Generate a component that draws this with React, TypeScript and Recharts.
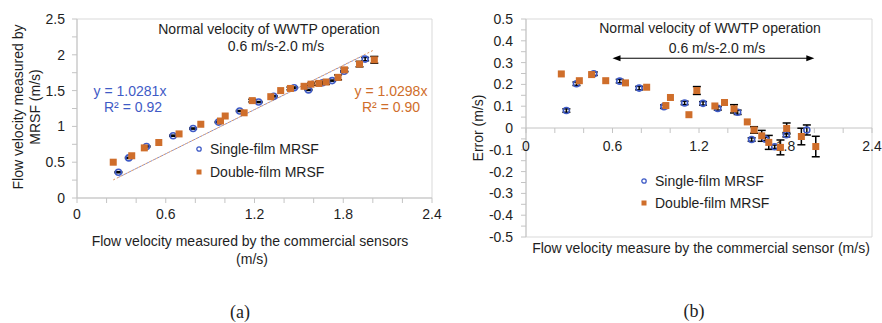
import React from "react";
import {
  ScatterChart,
  Scatter,
  XAxis,
  YAxis,
  ErrorBar,
  ReferenceArea,
  ReferenceLine,
  ReferenceDot,
} from "recharts";

// reference velocity (commercial sensor), MRSF reading, error, error-bar half length
const singleRef = [0.28, 0.35, 0.47, 0.65, 0.785, 0.957, 1.1, 1.228, 1.33, 1.468, 1.565, 1.66, 1.725, 1.806, 1.948];
const singleMrsf = [0.36, 0.56, 0.72, 0.87, 0.97, 1.06, 1.215, 1.34, 1.42, 1.54, 1.51, 1.61, 1.64, 1.77, 1.94];
const singleErr = [0.08, 0.203, 0.249, 0.215, 0.183, 0.098, 0.115, 0.113, 0.09, 0.072, -0.053, -0.051, -0.086, -0.031, -0.009];
const singleBar = [0.008, 0.008, 0.008, 0.008, 0.008, 0.008, 0.008, 0.008, 0.008, 0.01, 0.008, 0.008, 0.008, 0.01, 0.023];

const doubleRef = [0.245, 0.37, 0.455, 0.553, 0.69, 0.837, 0.97, 1.002, 1.13, 1.185, 1.31, 1.377, 1.443, 1.535, 1.582, 1.635, 1.684, 1.765, 1.808, 1.91, 2.01];
const doubleMrsf = [0.5, 0.59, 0.7, 0.775, 0.895, 1.03, 1.075, 1.145, 1.19, 1.36, 1.415, 1.5, 1.53, 1.56, 1.59, 1.6, 1.62, 1.685, 1.79, 1.87, 1.93];
const doubleErr = [0.248, 0.217, 0.245, 0.217, 0.207, 0.187, 0.103, 0.14, 0.061, 0.172, 0.101, 0.117, 0.088, 0.028, -0.009, -0.036, -0.066, -0.089, -0.002, -0.039, -0.085];
// null = bar hidden behind the marker
const doubleBar = [null, null, null, null, null, null, null, null, null, 0.018, null, null, 0.019, null, 0.015, 0.025, 0.032, 0.034, 0.025, 0.038, 0.047];

// trendline slopes (y = kx)
const slopeSingle = 1.0281;
const slopeDouble = 1.0298;

const xTicks = [0, 0.2, 0.4, 0.6, 0.8, 1, 1.2, 1.4, 1.6, 1.8, 2, 2.2, 2.4];
const xMajor = [0, 0.6, 1.2, 1.8, 2.4];
const yTicksA = [0, 0.25, 0.5, 0.75, 1, 1.25, 1.5, 1.75, 2, 2.25, 2.5];
const yMajorA = [0, 0.5, 1, 1.5, 2, 2.5];
const yTicksB = [-0.5, -0.45, -0.4, -0.35, -0.3, -0.25, -0.2, -0.15, -0.1, -0.05, 0, 0.05, 0.1, 0.15, 0.2, 0.25, 0.3, 0.35, 0.4, 0.45, 0.5];
const yMajorB = [-0.5, -0.4, -0.3, -0.2, -0.1, 0, 0.1, 0.2, 0.3, 0.4, 0.5];

const opRange = [0.6, 2.0];
const arrowY = 0.32;

const FONT = '"Liberation Sans", Arial, sans-serif';
const SERIF = '"Liberation Serif", "Times New Roman", serif';
const BLUE = "#3F5BC6";
const ORANGE = "#CF6E2B";
const GRAY = "#C4C4C4";
const TXT = "#1E1E1E";

const singleA = singleRef.map((x, i) => ({ x, y: singleMrsf[i], e: singleBar[i] }));
const doubleA = doubleRef.map((x, i) => ({ x, y: doubleMrsf[i], e: doubleBar[i] }));
const singleB = singleRef.map((x, i) => ({ x, y: singleErr[i], e: singleBar[i] }));
const doubleB = doubleRef.map((x, i) => ({ x, y: doubleErr[i], e: doubleBar[i] }));

const trend = (xs: number[], k: number) => {
  const lo = Math.min(...xs);
  const hi = Math.max(...xs);
  return [
    { x: lo, y: k * lo },
    { x: hi, y: k * hi },
  ];
};

const Circle = (p: any) => (
  <circle cx={p.cx} cy={p.cy} r={3} fill="none" stroke={BLUE} strokeWidth={1.6} />
);
const Square = (p: any) => (
  <rect x={p.cx - 3.5} y={p.cy - 3.5} width={7} height={7} fill={ORANGE} />
);
const NoDot = () => <g />;

function Txt({ x, y, children, color = TXT, size = 14, family = FONT }: any) {
  return (
    <div
      style={{
        position: "absolute",
        left: x,
        top: y,
        transform: "translate(-50%, -50%)",
        whiteSpace: "nowrap",
        fontSize: size,
        color,
        fontFamily: family,
        lineHeight: 1,
      }}
    >
      {children}
    </div>
  );
}

function LegendRow({ x, y, kind, label }: any) {
  return (
    <div
      style={{
        position: "absolute",
        left: x,
        top: y,
        transform: "translateY(-50%)",
        display: "flex",
        alignItems: "center",
        gap: 8,
        fontSize: 14,
        color: TXT,
        fontFamily: FONT,
        whiteSpace: "nowrap",
      }}
    >
      <svg width={6} height={6}>
        {kind === "circle" ? (
          <circle cx={3} cy={3} r={2.2} fill="none" stroke={BLUE} strokeWidth={1.3} />
        ) : (
          <rect x={0.5} y={0.5} width={5} height={5} fill={ORANGE} />
        )}
      </svg>
      <span>{label}</span>
    </div>
  );
}

const tickStyle = { fontSize: 14, fill: TXT, fontFamily: FONT };

const bars = (data: any[]) => (
  <Scatter data={data} shape={NoDot} isAnimationActive={false}>
    <ErrorBar dataKey="e" direction="y" width={4} stroke="#000" strokeWidth={1.5} />
  </Scatter>
);

export default function App() {
  return (
    <div
      style={{
        position: "absolute",
        left: 0,
        top: 0,
        width: 882,
        height: 323,
        background: "#fff",
        fontFamily: FONT,
        overflow: "hidden",
      }}
    >
      {/* (a) */}
      <div style={{ position: "absolute", left: 0, top: 0 }}>
        <ScatterChart width={452} height={270} margin={{ top: 19, right: 20, bottom: 42, left: 0 }}>
          <XAxis
            type="number"
            dataKey="x"
            domain={[0, 2.4]}
            ticks={xTicks}
            interval={0}
            height={30}
            tickSize={5}
            tickMargin={6}
            tick={tickStyle}
            tickFormatter={(v) => (xMajor.includes(v) ? String(v) : "")}
            axisLine={{ stroke: GRAY }}
            tickLine={{ stroke: GRAY }}
          />
          <YAxis
            type="number"
            dataKey="y"
            domain={[0, 2.5]}
            ticks={yTicksA}
            interval={0}
            width={77}
            tickSize={5}
            tickMargin={7}
            tick={tickStyle}
            tickFormatter={(v) => (yMajorA.includes(v) ? String(v) : "")}
            axisLine={{ stroke: GRAY }}
            tickLine={{ stroke: GRAY }}
          />
          <ReferenceArea x1={0} x2={2.4} y1={0} y2={2.5} fill="none" stroke="#D9D9D9" />
          <Scatter
            data={trend(singleRef, slopeSingle)}
            line={{ stroke: "#7D8BD3", strokeWidth: 1, strokeDasharray: "2 2" }}
            shape={NoDot}
            isAnimationActive={false}
          />
          <Scatter
            data={trend(doubleRef, slopeDouble)}
            line={{ stroke: "#DB935E", strokeWidth: 1, strokeDasharray: "2 2" }}
            shape={NoDot}
            isAnimationActive={false}
          />
          {bars(singleA)}
          {bars(doubleA)}
          <Scatter data={singleA} shape={Circle} isAnimationActive={false} />
          <Scatter data={doubleA} shape={Square} isAnimationActive={false} />
        </ScatterChart>
      </div>

      <Txt x={269} y={29}>Normal velocity of WWTP operation</Txt>
      <Txt x={276} y={46}>0.6 m/s-2.0 m/s</Txt>
      <Txt x={130} y={91} color={BLUE}>y = 1.0281x</Txt>
      <Txt x={133} y={107} color={BLUE}>R² = 0.92</Txt>
      <Txt x={391} y={91} color={ORANGE}>y = 1.0298x</Txt>
      <Txt x={391} y={107} color={ORANGE}>R² = 0.90</Txt>
      <LegendRow x={196} y={149} kind="circle" label="Single-film MRSF" />
      <LegendRow x={196} y={172} kind="square" label="Double-film MRSF" />
      <Txt x={250} y={241}>Flow velocity measured by the commercial sensors</Txt>
      <Txt x={252} y={259}>(m/s)</Txt>
      <div
        style={{
          position: "absolute",
          left: 27,
          top: 107,
          transform: "translate(-50%, -50%) rotate(-90deg)",
          whiteSpace: "nowrap",
          fontSize: 14,
          lineHeight: "17px",
          color: TXT,
          textAlign: "center",
        }}
      >
        Flow velocity measured by
        <br />
        MRSF (m/s)
      </div>
      <Txt x={240} y={312} size={18} family={SERIF}>(a)</Txt>

      {/* (b) */}
      <div style={{ position: "absolute", left: 440, top: 0 }}>
        <ScatterChart width={442} height={270} margin={{ top: 19, right: 10, bottom: 33, left: 0 }}>
          <XAxis type="number" dataKey="x" domain={[0, 2.4]} hide />
          <YAxis
            type="number"
            dataKey="y"
            domain={[-0.5, 0.5]}
            ticks={yTicksB}
            interval={0}
            width={86}
            tickSize={5}
            tickMargin={8}
            tick={tickStyle}
            tickFormatter={(v) => (yMajorB.includes(v) ? String(v) : "")}
            axisLine={{ stroke: GRAY }}
            tickLine={{ stroke: GRAY }}
          />
          <ReferenceArea x1={0} x2={2.4} y1={-0.5} y2={0.5} fill="none" stroke="#D9D9D9" />
          <ReferenceLine y={0} stroke={GRAY} />
          {xTicks.map((t) => (
            <ReferenceDot
              key={t}
              x={t}
              y={0}
              r={0}
              shape={(p: any) => (
                <g>
                  <line x1={p.cx} y1={p.cy} x2={p.cx} y2={p.cy + 5} stroke={GRAY} />
                  {xMajor.includes(t) && (
                    <text x={p.cx} y={p.cy + 23} textAnchor="middle" {...tickStyle}>
                      {String(t)}
                    </text>
                  )}
                </g>
              )}
            />
          ))}
          <ReferenceLine
            segment={[
              { x: opRange[0], y: arrowY },
              { x: opRange[1], y: arrowY },
            ]}
            shape={(p: any) => (
              <g>
                <line x1={p.x1 + 6} y1={p.y1} x2={p.x2 - 6} y2={p.y2} stroke="#000" strokeWidth={1} />
                <polygon points={`${p.x1},${p.y1} ${p.x1 + 8},${p.y1 - 3} ${p.x1 + 8},${p.y1 + 3}`} fill="#000" />
                <polygon points={`${p.x2},${p.y2} ${p.x2 - 8},${p.y2 - 3} ${p.x2 - 8},${p.y2 + 3}`} fill="#000" />
              </g>
            )}
          />
          {bars(singleB)}
          {bars(doubleB)}
          <Scatter data={singleB} shape={Circle} isAnimationActive={false} />
          <Scatter data={doubleB} shape={Square} isAnimationActive={false} />
        </ScatterChart>
      </div>

      <Txt x={710} y={28}>Normal velocity of WWTP operation</Txt>
      <Txt x={717} y={48}>0.6 m/s-2.0 m/s</Txt>
      <LegendRow x={641} y={181} kind="circle" label="Single-film MRSF" />
      <LegendRow x={641} y={203} kind="square" label="Double-film MRSF" />
      <Txt x={701} y={248}>Flow velocity measure by the commercial sensor (m/s)</Txt>
      <div
        style={{
          position: "absolute",
          left: 478,
          top: 128,
          transform: "translate(-50%, -50%) rotate(-90deg)",
          whiteSpace: "nowrap",
          fontSize: 14,
          color: TXT,
        }}
      >
        Error (m/s)
      </div>
      <Txt x={694} y={311} size={18} family={SERIF}>(b)</Txt>
    </div>
  );
}
